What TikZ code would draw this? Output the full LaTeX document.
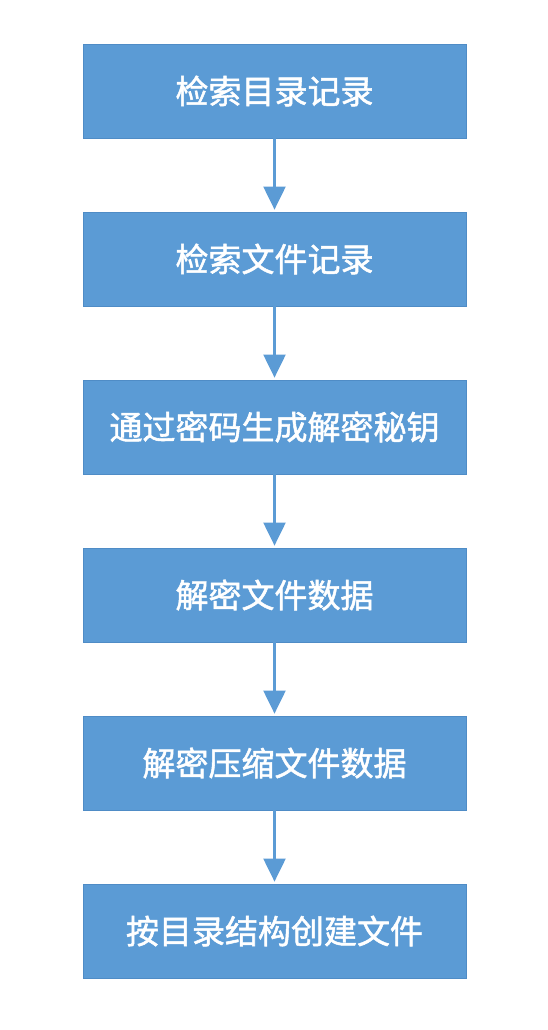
\documentclass[tikz,border=0pt]{standalone}
\usepackage{fontspec}
\newfontfamily\cjk[FakeBold=1.6]{Noto Sans CJK SC}
\usetikzlibrary{arrows.meta}
\definecolor{boxblue}{HTML}{5B9BD5}
\definecolor{boxedge}{HTML}{4F8CC6}
\tikzset{
  stepbox/.style={draw=boxedge, line width=0.8pt, fill=boxblue, minimum width=383pt, minimum height=94pt, inner sep=0pt, text=white, font=\cjk\fontsize{33pt}{38pt}\selectfont},
  flowarrow/.style={draw=boxblue, line width=2.2pt, -{Triangle[width=22pt,length=23pt]}, shorten >=2pt}
}
\begin{document}
\begin{tikzpicture}[x=1pt,y=1pt]
\useasboundingbox (0,0) rectangle (548,-1030);
\fill[white] (0,0) rectangle (548,-1030);
\node[stepbox] (b1) at (274.5,-91) {检索目录记录};
\node[stepbox] (b2) at (274.5,-259) {检索文件记录};
\node[stepbox] (b3) at (274.5,-427) {通过密码生成解密秘钥};
\node[stepbox] (b4) at (274.5,-595) {解密文件数据};
\node[stepbox] (b5) at (274.5,-763) {解密压缩文件数据};
\node[stepbox] (b6) at (274.5,-931) {按目录结构创建文件};
\draw[flowarrow] (b1) -- (b2);
\draw[flowarrow] (b2) -- (b3);
\draw[flowarrow] (b3) -- (b4);
\draw[flowarrow] (b4) -- (b5);
\draw[flowarrow] (b5) -- (b6);
\end{tikzpicture}
\end{document}
